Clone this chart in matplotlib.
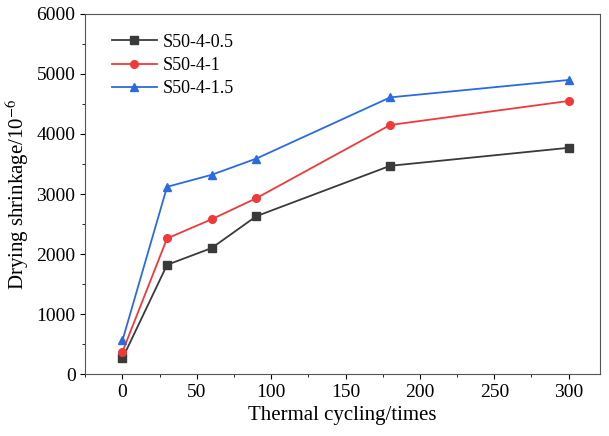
import matplotlib.pyplot as plt
from matplotlib.ticker import AutoMinorLocator

plt.rcParams['font.family'] = ['Liberation Serif', 'DejaVu Serif']
plt.rcParams['mathtext.fontset'] = 'stix'

cycles = [0, 30, 60, 90, 180, 300]
s05 = [260, 1820, 2100, 2630, 3470, 3770]
s10 = [370, 2260, 2580, 2930, 4150, 4550]
s15 = [560, 3120, 3320, 3590, 4610, 4900]

fig = plt.figure(figsize=(6.09, 4.36), dpi=100)
ax = fig.add_axes([0.14, 0.142, 0.845, 0.826])

ax.plot(cycles, s05, color='#3a3a3a', marker='s', ms=5.5, lw=1.3, label='S50-4-0.5')
ax.plot(cycles, s10, color='#f03a3a', marker='o', ms=5.5, lw=1.3, label='S50-4-1')
ax.plot(cycles, s15, color='#2a6be0', marker='^', ms=5.5, lw=1.3, label='S50-4-1.5')

ax.set_xlim(-25, 321)
ax.set_ylim(0, 6000)
ax.set_xticks([0, 50, 100, 150, 200, 250, 300])
ax.set_yticks(range(0, 6001, 1000))
ax.xaxis.set_minor_locator(AutoMinorLocator(2))
ax.yaxis.set_minor_locator(AutoMinorLocator(2))
ax.tick_params(labelsize=14, direction='out')
ax.set_xlabel('Thermal cycling/times', fontsize=15)
ax.set_ylabel('Drying shrinkage/10$^{-6}$', fontsize=15)
for s in ax.spines.values():
    s.set_color('#555555')

ax.legend(loc='upper left', frameon=False, fontsize=13, handlelength=2.5,
          bbox_to_anchor=(0.02, 0.99), labelspacing=0.35, handletextpad=0.3)

fig.savefig('out.png', dpi=100)
